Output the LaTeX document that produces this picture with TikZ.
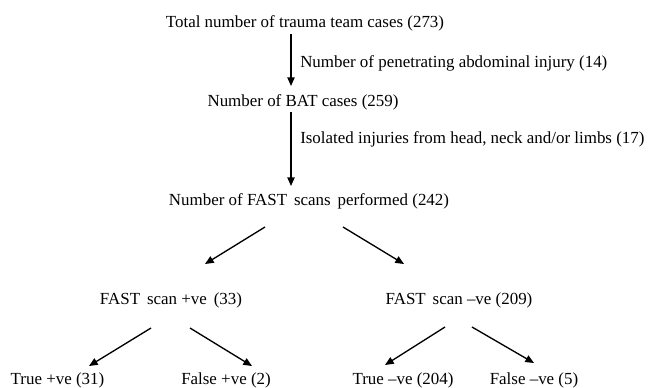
\documentclass[tikz,border=0pt]{standalone}
\usepackage{fontspec}
\setmainfont{Liberation Serif}
\usetikzlibrary{arrows.meta,calc}
\begin{document}
\begin{tikzpicture}[x=0.75pt, y=-0.75pt, every node/.style={inner sep=0pt, font=\rmfamily\fontsize{12.7}{15}\selectfont},
        arr/.style={-{Triangle[length=6.5pt, width=5.5pt]}, line width=1pt}]
    \useasboundingbox (0,0) rectangle (649,387);
    % Top chain
    \node (total) at (305,23) {Total number of trauma team cases (273)};
    \node (bat) at (303,102) {Number of BAT cases (259)};
    \node (fast) at (309,201) {Number of FAST\hspace{2pt} scans\hspace{2pt} performed (242)};
    \node[anchor=west] (excl1) at (300,63) {Number of penetrating abdominal injury (14)};
    \node[anchor=west] (excl2) at (300,139) {Isolated injuries from head, neck and/or limbs (17)};
    % Scan results
    \node (pos) at (171,300) {FAST\hspace{2pt} scan +ve\hspace{2pt} (33)};
    \node (neg) at (459,300) {FAST\hspace{2pt} scan --ve (209)};
    % Outcomes
    \node (tp) at (57.5,380) {True +ve (31)};
    \node (fp) at (226,380) {False +ve (2)};
    \node (tn) at (403,380) {True --ve (204)};
    \node (fn) at (534,380) {False --ve (5)};
    % Arrows
    \draw[arr] ($(total)+(-14,11)$) -- ($(bat)+(-12,-16)$);
    \draw[arr] ($(bat)+(-12,10)$) -- ($(fast)+(-18,-15)$);
    \draw[arr] ($(fast)+(-44,26)$) -- ($(pos)+(34,-36)$);
    \draw[arr] ($(fast)+(34,26)$) -- ($(neg)+(-55,-36)$);
    \draw[arr] ($(pos)+(-20,28)$) -- ($(tp)+(31.5,-14)$);
    \draw[arr] ($(pos)+(19,28)$) -- ($(fp)+(26,-14)$);
    \draw[arr] ($(neg)+(-14,27)$) -- ($(tn)+(-18,-15)$);
    \draw[arr] ($(neg)+(13,27)$) -- ($(fn)+(0,-17)$);
\end{tikzpicture}
\end{document}
